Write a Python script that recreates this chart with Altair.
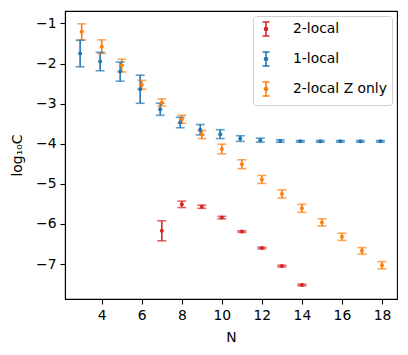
import altair as alt
import pandas as pd

# ---- data ----
N_1local = [3, 4, 5, 6, 7, 8, 9, 10, 11, 12, 13, 14, 15, 16, 17, 18]
C_1local = [-1.75, -1.95, -2.20, -2.64, -3.14, -3.47, -3.65, -3.76, -3.87, -3.91,
            -3.93, -3.94, -3.94, -3.94, -3.94, -3.94]
E_1local = [0.33, 0.23, 0.24, 0.35, 0.15, 0.13, 0.13, 0.11, 0.07, 0.05,
            0.03, 0.02, 0.02, 0.02, 0.02, 0.02]

N_2localZ = [3, 4, 5, 6, 7, 8, 9, 10, 11, 12, 13, 14, 15, 16, 17, 18]
C_2localZ = [-1.21, -1.58, -2.05, -2.53, -2.97, -3.39, -3.77, -4.13, -4.51, -4.89,
             -5.25, -5.61, -5.96, -6.32, -6.67, -7.03]
E_2localZ = [0.20, 0.17, 0.16, 0.11, 0.09, 0.10, 0.10, 0.12, 0.11, 0.10,
             0.10, 0.10, 0.09, 0.09, 0.08, 0.09]

N_2local = [7, 8, 9, 10, 11, 12, 13, 14]
C_2local = [-6.17, -5.51, -5.57, -5.84, -6.19, -6.60, -7.05, -7.52]
E_2local = [0.25, 0.08, 0.04, 0.03, 0.02, 0.02, 0.02, 0.02]

series_names = ["2-local", "1-local", "2-local Z only"]
series_colors = ["#d62728", "#1f77b4", "#ff7f0e"]
x_ticks = [4, 6, 8, 10, 12, 14, 16, 18]
y_ticks = [-1, -2, -3, -4, -5, -6, -7]

rows = []
for name, Ns, Cs, Es in [("2-local", N_2local, C_2local, E_2local),
                         ("1-local", N_1local, C_1local, E_1local),
                         ("2-local Z only", N_2localZ, C_2localZ, E_2localZ)]:
    for n, c, e in zip(Ns, Cs, Es):
        rows.append({"series": name, "N": n, "C": c, "lo": c - e, "hi": c + e})
df = pd.DataFrame(rows)

FONT = "DejaVu Sans"
FS = 13.9

xscale = alt.Scale(domain=[2.165, 18.75], nice=False, zero=False)
yscale = alt.Scale(domain=[-7.87, -0.69], nice=False, zero=False)
cscale = alt.Scale(domain=series_names, range=series_colors)

symbol_path = ("M-0.5,-1H0.5M0,-1V1M-0.5,1H0.5"
               "M0.22,0A0.22,0.22 0 1 1 -0.22,0A0.22,0.22 0 1 1 0.22,0")

base = alt.Chart(df).transform_calculate(
    xp="datum.series == '1-local' ? datum.N - 0.08 : datum.N"
)

xenc = alt.X("xp:Q", scale=xscale,
             axis=alt.Axis(title="N", values=x_ticks, grid=False, format="d"))

rules = base.mark_rule(strokeWidth=1.6).encode(
    x=xenc,
    y=alt.Y("lo:Q", scale=yscale,
            axis=alt.Axis(title="log₁₀C", values=y_ticks, grid=False, format="d")),
    y2="hi:Q",
    color=alt.Color("series:N", scale=cscale, sort=series_names,
                    legend=alt.Legend(
                        title=None, orient="top-right", offset=5,
                        symbolType=symbol_path, symbolSize=196,
                        symbolStrokeWidth=1.6,
                        labelFont=FONT, labelFontSize=FS, labelColor="black",
                        labelOffset=19,
                        strokeColor="#d0d0d0", fillColor="white",
                        cornerRadius=3, padding=5, rowPadding=8,
                    )),
)

caps_lo = base.mark_tick(thickness=1.6, size=9, orient="horizontal").encode(
    x="xp:Q", y="lo:Q",
    color=alt.Color("series:N", scale=cscale, legend=None),
)
caps_hi = base.mark_tick(thickness=1.6, size=9, orient="horizontal").encode(
    x="xp:Q", y="hi:Q",
    color=alt.Color("series:N", scale=cscale, legend=None),
)
pts = base.mark_point(filled=True, size=16, opacity=1, shape="circle").encode(
    x="xp:Q", y="C:Q",
    color=alt.Color("series:N", scale=cscale, legend=None),
)

chart = alt.layer(rules, caps_lo, caps_hi, pts).properties(
    width=332, height=288,
    autosize=alt.AutoSizeParams(type="none"),
    padding={"left": 57, "top": 3, "right": 3, "bottom": 48},
).configure_view(
    stroke="black", strokeWidth=1.1
).configure_axis(
    labelFont=FONT, labelFontSize=FS, labelColor="black",
    titleFont=FONT, titleFontSize=FS, titleColor="black", titleFontWeight="normal",
    tickColor="black", tickSize=5, tickWidth=1.1, labelPadding=4,
    domainColor="black", domainWidth=1.1,
).configure_axisY(
    titlePadding=11,
).configure_axisX(
    titlePadding=9,
)

chart.save("out.html", embed_options={"renderer": "svg", "actions": False})
